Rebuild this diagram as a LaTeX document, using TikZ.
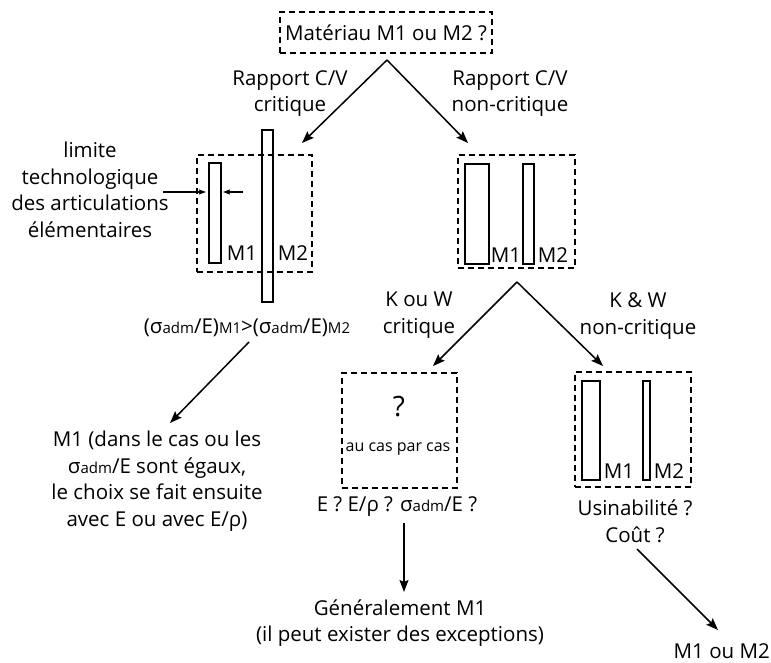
\documentclass[tikz,border=0pt]{standalone}
\usepackage{fontspec}
\setmainfont{Open Sans}
\newfontfamily\grk{Open Sans}
\usetikzlibrary{arrows.meta}
\newcommand{\sig}{{\grk σ}}
\newcommand{\rh}{{\grk ρ}}
\newcommand{\smalltxt}[1]{{\fontsize{15}{15}\selectfont #1}}
\tikzset{
  dbox/.style={draw, dash pattern=on 6pt off 4pt, line width=1.6pt, inner sep=0pt},
  bar/.style={draw, line width=1.4pt, inner sep=0pt},
  txt/.style={align=center, inner sep=0pt, font=\fontsize{20.5}{26.5}\selectfont},
  arr/.style={-{Stealth[length=12pt,width=9pt,inset=2pt]}, line width=1.5pt},
  smallarr/.style={-{Stealth[length=7pt,width=5pt,inset=1pt]}, line width=1.3pt},
}

\begin{document}
\begin{tikzpicture}[x=1pt,y=-1pt]
        \useasboundingbox (0,0) rectangle (771,663);
        % boites
        \node (top) [dbox, txt, minimum width=212pt, minimum height=41pt] at (386,32.5) {Matériau M1 ou M2 ?};
        \node (boxL) [dbox, minimum width=115pt, minimum height=117pt] at (254.5,213.5) {};
        \node (barL1) [bar, minimum width=12pt, minimum height=100pt] at (215,213) {};
        \node (barL2) [bar, minimum width=11pt, minimum height=172pt] at (267.5,216) {};
        \node (boxC) [dbox, minimum width=117pt, minimum height=113pt] at (516.5,211.5) {};
        \node (barC1) [bar, minimum width=24pt, minimum height=100pt] at (477,214) {};
        \node (barC2) [bar, minimum width=11pt, minimum height=100pt] at (528.5,214) {};
        \node (boxQ) [dbox, minimum width=115pt, minimum height=115pt] at (399.5,430.5) {};
        \node (boxR) [dbox, minimum width=116pt, minimum height=115pt] at (633,429.5) {};
        \node (barR1) [bar, minimum width=18pt, minimum height=99pt] at (591,430.5) {};
        \node (barR2) [bar, minimum width=7pt, minimum height=99pt] at (646.5,430.5) {};
        % etiquettes
        \node (mL1) [txt] at (242,253) {M1};
        \node (mL2) [txt] at (293,253) {M2};
        \node (mC1) [txt] at (506,255) {M1};
        \node (mC2) [txt] at (553,255) {M2};
        \node (mR1) [txt] at (619,471) {M1};
        \node (mR2) [txt] at (669,471) {M2};
        \node (qmark) [txt, font=\fontsize{28}{30}\selectfont] at (399,407) {?};
        \node (cas) [txt, font=\fontsize{16}{18}\selectfont] at (398,449) {au cas par cas};
        \node (rapL) [txt] at (290,93.5) {Rapport C/V\\critique};
        \node (rapR) [txt] at (510,93.5) {Rapport C/V\\non-critique};
        \node (limite) [txt] at (90,190) {limite\\technologique\\des articulations\\élémentaires};
        \node (ratio) [txt] at (247,328) {(\sig\smalltxt{adm}/E)\smalltxt{M1}>(\sig\smalltxt{adm}/E)\smalltxt{M2}};
        \node (resL) [txt] at (157,481) {M1 (dans le cas ou les\\\sig\smalltxt{adm}/E sont égaux,\\le choix se fait ensuite\\avec E ou avec E/\rh)};
        \node (kwL) [txt] at (419,315) {K ou W\\critique};
        \node (kwR) [txt] at (638,316) {K \& W\\non-critique};
        \node (crit) [txt] at (397,507) {E ? E/\rh{} ? \sig\smalltxt{adm}/E ?};
        \node (resQ) [txt] at (400,623) {Généralement M1\\(il peut exister des exceptions)};
        \node (usin) [txt] at (635,521.5) {Usinabilité ?\\Coût ?};
        \node (resR) [txt, anchor=east] at (770,651) {M1 ou M2};
        % points des fleches
        \coordinate (apex1) at (387,60);
        \coordinate (tipL) at (302,143);
        \coordinate (tipC) at (468,143);
        \coordinate (apex2) at (517,282);
        \coordinate (tipQ) at (433,366);
        \coordinate (tipR) at (603,366);
        \coordinate (limA) at (163,192);
        \coordinate (limB) at (206,192);
        \coordinate (limC) at (243,192);
        \coordinate (limD) at (223,192);
        \coordinate (fromL) at (249,342);
        \coordinate (toL) at (170,423);
        \coordinate (fromQ) at (404,523);
        \coordinate (toQ) at (404,592);
        \coordinate (fromR) at (637,549);
        \coordinate (toR) at (718,630);
        \draw (apex1) edge [arr] (tipL);
        \draw (apex1) edge [arr] (tipC);
        \draw (apex2) edge [arr] (tipQ);
        \draw (apex2) edge [arr] (tipR);
        \draw (limA) edge [smallarr] (limB);
        \draw (limC) edge [smallarr] (limD);
        \draw (fromL) edge [arr] (toL);
        \draw (fromQ) edge [arr] (toQ);
        \draw (fromR) edge [arr] (toR);
\end{tikzpicture}
\end{document}
